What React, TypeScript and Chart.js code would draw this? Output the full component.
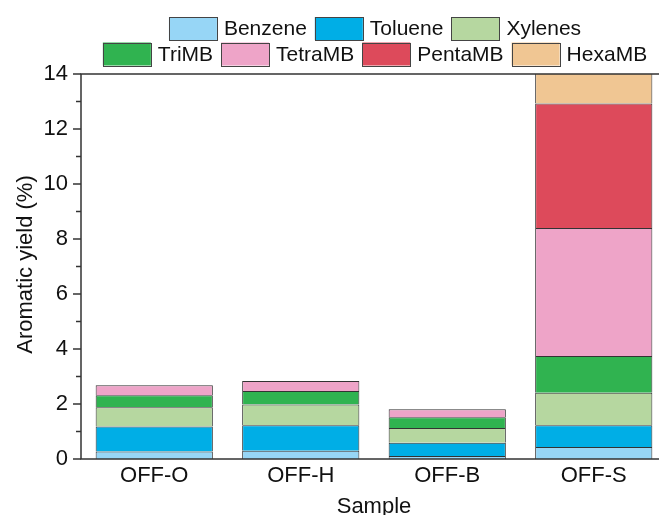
import React, { useEffect, useRef } from 'react';
import { Chart, registerables } from 'chart.js';

Chart.register(...registerables);

const categories = ['OFF-O', 'OFF-H', 'OFF-B', 'OFF-S'];
const seriesNames = ['Benzene', 'Toluene', 'Xylenes', 'TriMB', 'TetraMB', 'PentaMB', 'HexaMB'];
const benzene = [0.27, 0.3, 0.11, 0.44];
const toluene = [0.91, 0.93, 0.48, 0.79];
const xylenes = [0.7, 0.75, 0.54, 1.18];
const triMB = [0.44, 0.49, 0.39, 1.34];
const tetraMB = [0.36, 0.37, 0.29, 4.65];
const pentaMB = [0, 0, 0, 4.53];
const hexaMB = [0, 0, 0, 1.2];
const seriesValues = [benzene, toluene, xylenes, triMB, tetraMB, pentaMB, hexaMB];
const seriesColors = ['#97d6f6', '#00aee6', '#b6d7a0', '#30b350', '#eea4c8', '#dd4a5b', '#f0c693'];
const legendRows = [[0, 1, 2], [3, 4, 5, 6]];
const yMin = 0;
const yMax = 14;
const yLabelStep = 2;
const yMinorStep = 1;
const xTitle = 'Sample';
const yTitle = 'Aromatic yield (%)';

const FONT = '"Liberation Sans", Arial, sans-serif';
const TEXT = '#111';

const decorPlugin = {
  id: 'decor',
  afterDatasetsDraw(chart: any) {
    const { ctx, chartArea } = chart;
    const { left, right, top, bottom } = chartArea;
    const y = chart.scales.y;
    ctx.save();
    ctx.strokeStyle = '#333';
    ctx.lineWidth = 1.5;
    ctx.strokeRect(left, top, right - left, bottom - top);
    for (let v = yMin; v <= yMax; v += yMinorStep) {
      const py = y.getPixelForValue(v);
      const len = v % yLabelStep === 0 ? 8 : 5;
      ctx.beginPath();
      ctx.moveTo(left - len, py);
      ctx.lineTo(left, py);
      ctx.stroke();
    }
    ctx.restore();
  },
  afterDraw(chart: any) {
    const { ctx, chartArea } = chart;
    const { left, right, top, bottom } = chartArea;
    ctx.save();
    ctx.fillStyle = TEXT;
    ctx.font = `22px ${FONT}`;
    ctx.textAlign = 'center';
    ctx.textBaseline = 'alphabetic';
    ctx.fillText(xTitle, (left + right) / 2, 512.5);
    ctx.save();
    ctx.translate(32, (top + bottom) / 2 - 2);
    ctx.rotate(-Math.PI / 2);
    ctx.fillText(yTitle, 0, 0);
    ctx.restore();

    // legend
    const boxW = 48;
    const boxH = 23;
    const gapText = 7;
    const gapItem = 8;
    const rowCenters = [28.5, 54];
    const centerX = 375;
    ctx.font = `21px ${FONT}`;
    ctx.textAlign = 'left';
    ctx.textBaseline = 'middle';
    legendRows.forEach((row, ri) => {
      const widths = row.map((i) => ctx.measureText(seriesNames[i]).width);
      const total = widths.reduce((a, w) => a + boxW + gapText + w, 0) + gapItem * (row.length - 1);
      let x = centerX - total / 2;
      const cy = rowCenters[ri];
      row.forEach((i, k) => {
        ctx.fillStyle = seriesColors[i];
        ctx.fillRect(x, cy - boxH / 2, boxW, boxH);
        ctx.strokeStyle = '#444';
        ctx.lineWidth = 1;
        ctx.strokeRect(Math.round(x) + 0.5, Math.round(cy - boxH / 2) + 0.5, boxW, boxH);
        ctx.fillStyle = TEXT;
        ctx.fillText(seriesNames[i], x + boxW + gapText, cy + 1);
        x += boxW + gapText + widths[k] + gapItem;
      });
    });
    ctx.restore();
  },
};

export default function App() {
  const ref = useRef<HTMLCanvasElement | null>(null);
  useEffect(() => {
    if (!ref.current) return;
    const chart = new Chart(ref.current, {
      type: 'bar',
      data: {
        labels: categories,
        datasets: seriesNames.map((name, i) => ({
          label: name,
          data: seriesValues[i],
          backgroundColor: seriesColors[i],
          borderColor: '#333',
          borderWidth: 1,
          barPercentage: 0.8,
          categoryPercentage: 1,
          clip: 0,
        })),
      },
      options: {
        responsive: false,
        animation: false,
        devicePixelRatio: 1,
        layout: { padding: { top: 74, right: 13, bottom: 0, left: 0 } },
        plugins: { legend: { display: false }, tooltip: { enabled: false } },
        scales: {
          x: {
            stacked: true,
            grid: { display: false, drawTicks: false },
            border: { display: false },
            ticks: { color: TEXT, font: { family: FONT, size: 22 }, padding: 4, maxRotation: 0 },
            afterFit(s: any) {
              s.height = 56;
            },
          },
          y: {
            stacked: true,
            min: yMin,
            max: yMax,
            grid: { display: false, drawTicks: false },
            border: { display: false },
            ticks: { stepSize: yLabelStep, color: TEXT, font: { family: FONT, size: 22 }, padding: 13 },
            afterFit(s: any) {
              s.width = 81;
            },
          },
        },
      },
      plugins: [decorPlugin],
    } as any);
    return () => chart.destroy();
  }, []);
  return (
    <div style={{ position: 'absolute', left: 0, top: 0, width: 659, height: 515, overflow: 'hidden', background: '#fff' }}>
      <canvas ref={ref} width={680} height={515} style={{ display: 'block' }} />
    </div>
  );
}
